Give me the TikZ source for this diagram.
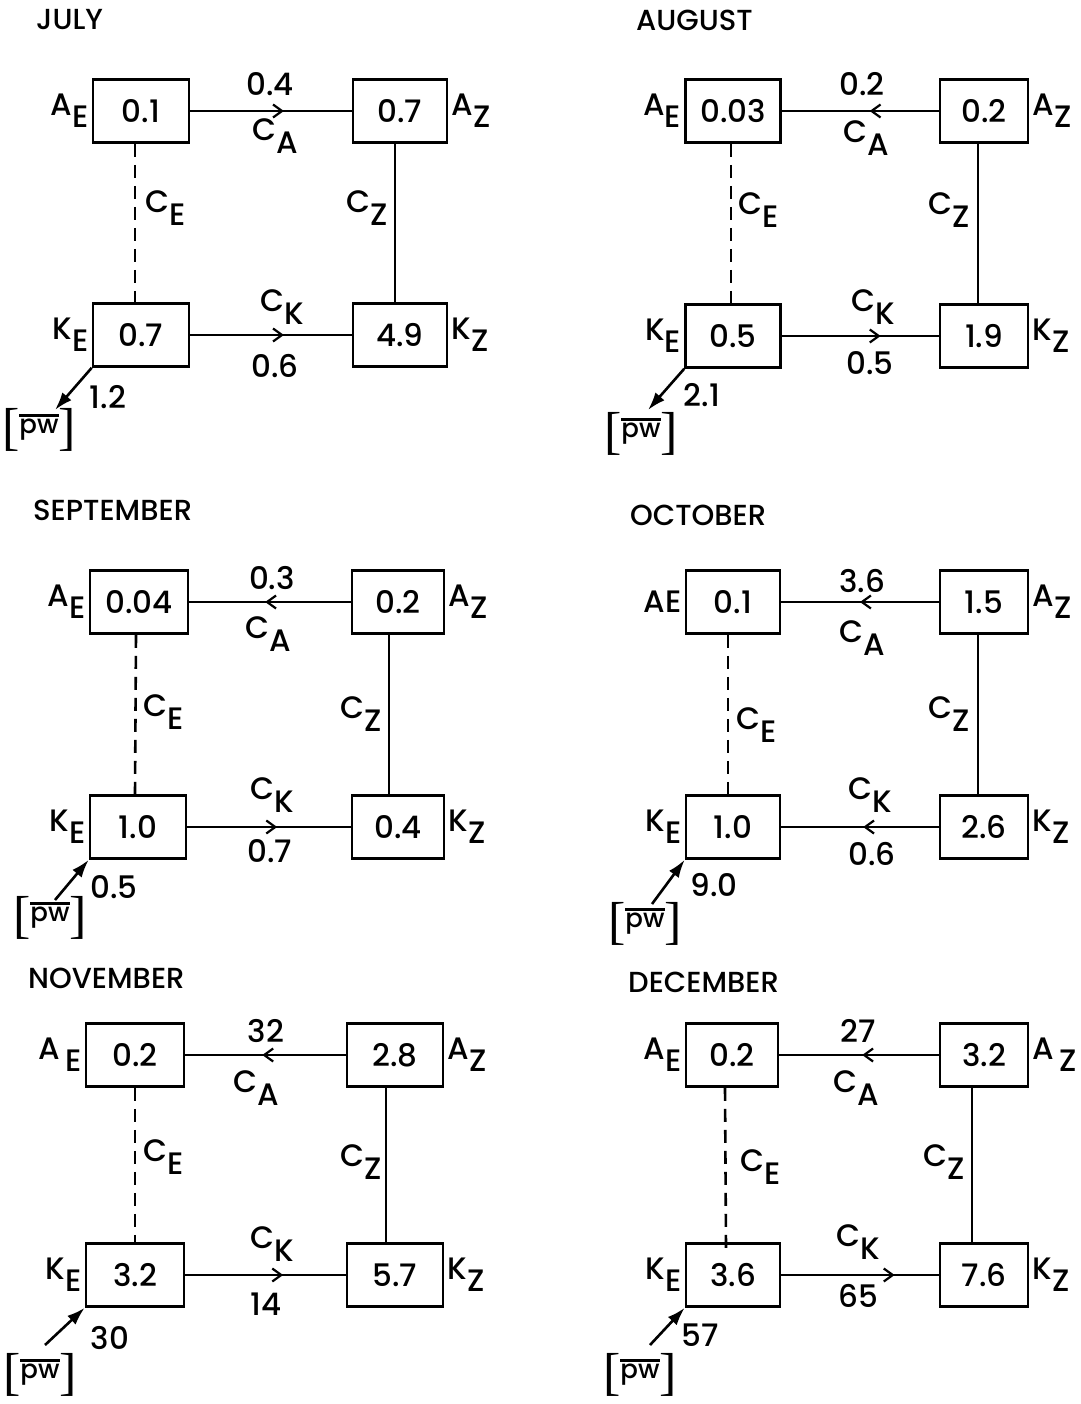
\documentclass[tikz,border=0pt]{standalone}
\usepackage{fontspec}
\setmainfont{Poppins Medium}
\newfontfamily\brk{Liberation Serif}
\usetikzlibrary{arrows.meta,decorations.markings}
\newcommand\lw[1]{\raisebox{-0.40em}{#1}}
\newcommand\ovl[1]{\vbox{\hrule height 2.4pt\kern 2.5pt\hbox{#1}}}
\newcommand\pwbox{{\brk\fontsize{52}{52}\selectfont[}\raisebox{11pt}{\fontsize{26}{26}\selectfont\ovl{pw}}{\brk\fontsize{52}{52}\selectfont]}}
\tikzset{
  box/.style={draw, line width=2.6pt, minimum width=96pt, minimum height=63pt, inner sep=0pt, font=\fontsize{31}{33}\selectfont},
  lbl/.style={inner sep=0pt, font=\fontsize{31}{33}\selectfont},
  ttl/.style={inner sep=0pt, anchor=west, font=\fontsize{29}{31}\selectfont},
  flow/.style={line width=2.2pt},
  ce/.style={line width=2.6pt, dash pattern=on 13pt off 8pt},
  midarrow/.style={flow, postaction=decorate, decoration={markings, mark=at position #1 with {\arrow{Straight Barb[length=9pt,width=13pt,line width=2.2pt]}}}},
  pwarrow/.style={line width=2.6pt, -{Latex[length=18pt,width=12pt]}}
}
\begin{document}
\begin{tikzpicture}[x=1pt,y=-1pt]
\useasboundingbox (0,0) rectangle (1080,1404);
\fill[white] (0,0) rectangle (1080,1404);

% ---------- JULY ----------
\node[ttl] (t1) at (36,20) {JULY};
\node[box] (ae1) at (141,111) {0.1};
\node[box,minimum width=94pt] (az1) at (400,111) {0.7};
\node[box] (ke1) at (141,335) {0.7};
\node[box,minimum width=94pt] (kz1) at (400,335) {4.9};
\node[lbl,anchor=east] (lae1) at ([xshift=-3pt]ae1.west) {A\lw{E}};
\node[lbl,anchor=west] (laz1) at ([xshift=3pt]az1.east) {A\lw{Z}};
\node[lbl,anchor=east] (lke1) at ([xshift=-3pt]ke1.west) {K\lw{E}};
\node[lbl,anchor=west] (lkz1) at ([xshift=3pt]kz1.east) {K\lw{Z}};
\draw[midarrow=0.58] (ae1) -- (az1);
\draw[ce] ([xshift=-6pt]ae1.south) -- ([xshift=-6pt,yshift=-6pt]ke1.north);
\draw[flow] ([xshift=-5pt]az1.south) -- ([xshift=-5pt]kz1.north);
\draw[midarrow=0.58] (ke1) -- (kz1);
\node[lbl] (va1) at (270,84) {0.4};
\node[lbl] (ca1) at (275,136) {C\lw{A}};
\node[lbl,anchor=west] (ce1) at (145,208) {C\lw{E}};
\node[lbl,anchor=east] (cz1) at (388,208) {C\lw{Z}};
\node[lbl] (ck1) at (282,307) {C\lw{K}};
\node[lbl] (vk1) at (275,366) {0.6};
\coordinate (w1) at (55,410);
\draw[pwarrow] (ke1.south west) -- (w1);
\node[lbl] (vp1) at (108,397) {1.2};
\node[lbl] (p1) at (39,430) {\pwbox};

% ---------- AUGUST ----------
\node[ttl] (t2) at (636,20) {AUGUST};
\node[box,minimum width=95pt] (ae2) at (733,111) {0.03};
\node[box,minimum width=88pt] (az2) at (984,111) {0.2};
\node[box,minimum width=95pt] (ke2) at (733,336) {0.5};
\node[box,minimum width=88pt] (kz2) at (984,336) {1.9};
\node[lbl,anchor=east] (lae2) at ([xshift=-3pt]ae2.west) {A\lw{E}};
\node[lbl,anchor=west] (laz2) at ([xshift=3pt]az2.east) {A\lw{Z}};
\node[lbl,anchor=east] (lke2) at ([xshift=-3pt]ke2.west) {K\lw{E}};
\node[lbl,anchor=west] (lkz2) at ([xshift=3pt]kz2.east) {K\lw{Z}};
\draw[midarrow=0.44] (az2) -- (ae2);
\draw[ce] ([xshift=-2pt]ae2.south) -- ([xshift=-2pt,yshift=-6pt]ke2.north);
\draw[flow] ([xshift=-6pt]az2.south) -- ([xshift=-6pt]kz2.north);
\draw[midarrow=0.63] (ke2) -- (kz2);
\node[lbl] (va2) at (862,84) {0.2};
\node[lbl] (ca2) at (866,138) {C\lw{A}};
\node[lbl,anchor=west] (ce2) at (738,210) {C\lw{E}};
\node[lbl,anchor=east] (cz2) at (970,210) {C\lw{Z}};
\node[lbl] (ck2) at (873,307) {C\lw{K}};
\node[lbl] (vk2) at (870,363) {0.5};
\coordinate (w2) at (648,410);
\draw[pwarrow] (ke2.south west) -- (w2);
\node[lbl] (vp2) at (702,395) {2.1};
\node[lbl] (p2) at (641,434) {\pwbox};

% ---------- SEPTEMBER ----------
\node[ttl] (t3) at (33,510) {SEPTEMBER};
\node[box,minimum width=98pt] (ae3) at (139,602) {0.04};
\node[box,minimum width=92pt] (az3) at (398,602) {0.2};
\node[box,minimum width=96pt] (ke3) at (138,827) {1.0};
\node[box,minimum width=92pt] (kz3) at (398,827) {0.4};
\node[lbl,anchor=east] (lae3) at ([xshift=-3pt]ae3.west) {A\lw{E}};
\node[lbl,anchor=west] (laz3) at ([xshift=3pt]az3.east) {A\lw{Z}};
\node[lbl,anchor=east] (lke3) at ([xshift=-3pt]ke3.west) {K\lw{E}};
\node[lbl,anchor=west] (lkz3) at ([xshift=3pt]kz3.east) {K\lw{Z}};
\draw[midarrow=0.53] (az3) -- (ae3);
\draw[ce] ([xshift=-3pt]ae3.south) -- ([xshift=-3pt]ke3.north);
\draw[flow] ([xshift=-9pt]az3.south) -- ([xshift=-9pt]kz3.north);
\draw[midarrow=0.55] (ke3) -- (kz3);
\node[lbl] (va3) at (272,578) {0.3};
\node[lbl] (ca3) at (268,634) {C\lw{A}};
\node[lbl,anchor=west] (ce3) at (143,712) {C\lw{E}};
\node[lbl,anchor=east] (cz3) at (382,714) {C\lw{Z}};
\node[lbl] (ck3) at (272,795) {C\lw{K}};
\node[lbl] (vk3) at (270,851) {0.7};
\coordinate (w3) at (55,900);
\draw[pwarrow] (w3) -- (ke3.south west);
\node[lbl] (vp3) at (114,887) {0.5};
\node[lbl] (p3) at (50,918) {\pwbox};

% ---------- OCTOBER ----------
\node[ttl] (t4) at (630,515) {OCTOBER};
\node[box,minimum width=94pt] (ae4) at (733,602) {0.1};
\node[box,minimum width=88pt] (az4) at (984,602) {1.5};
\node[box,minimum width=94pt] (ke4) at (733,827) {1.0};
\node[box,minimum width=88pt] (kz4) at (984,827) {2.6};
\node[lbl,anchor=east] (lae4) at ([xshift=-3pt]ae4.west) {AE};
\node[lbl,anchor=west] (laz4) at ([xshift=3pt]az4.east) {A\lw{Z}};
\node[lbl,anchor=east] (lke4) at ([xshift=-3pt]ke4.west) {K\lw{E}};
\node[lbl,anchor=west] (lkz4) at ([xshift=3pt]kz4.east) {K\lw{Z}};
\draw[midarrow=0.5] (az4) -- (ae4);
\draw[ce] ([xshift=-5pt]ae4.south) -- ([xshift=-5pt,yshift=-6pt]ke4.north);
\draw[flow] ([xshift=-6pt]az4.south) -- ([xshift=-6pt]kz4.north);
\draw[midarrow=0.48] (kz4) -- (ke4);
\node[lbl] (va4) at (862,581) {3.6};
\node[lbl] (ca4) at (862,638) {C\lw{A}};
\node[lbl,anchor=west] (ce4) at (736,725) {C\lw{E}};
\node[lbl,anchor=east] (cz4) at (970,714) {C\lw{Z}};
\node[lbl] (ck4) at (870,795) {C\lw{K}};
\node[lbl] (vk4) at (872,854) {0.6};
\coordinate (w4) at (652,904);
\draw[pwarrow] (w4) -- (ke4.south west);
\node[lbl] (vp4) at (714,885) {9.0};
\node[lbl] (p4) at (645,924) {\pwbox};

% ---------- NOVEMBER ----------
\node[ttl] (t5) at (28,978) {NOVEMBER};
\node[box,minimum width=98pt] (ae5) at (135,1055) {0.2};
\node[box,minimum width=96pt] (az5) at (395,1055) {2.8};
\node[box,minimum width=98pt] (ke5) at (135,1275) {3.2};
\node[box,minimum width=96pt] (kz5) at (395,1275) {5.7};
\node[lbl,anchor=east] (lae5) at ([xshift=-3pt]ae5.west) {A\,\lw{E}};
\node[lbl,anchor=west] (laz5) at ([xshift=3pt]az5.east) {A\lw{Z}};
\node[lbl,anchor=east] (lke5) at ([xshift=-3pt]ke5.west) {K\lw{E}};
\node[lbl,anchor=west] (lkz5) at ([xshift=3pt]kz5.east) {K\lw{Z}};
\draw[midarrow=0.52] (az5) -- (ae5);
\draw[ce] (ae5.south) -- (ke5.north);
\draw[flow] ([xshift=-9pt]az5.south) -- ([xshift=-9pt]kz5.north);
\draw[midarrow=0.61] (ke5) -- (kz5);
\node[lbl] (va5) at (266,1031) {32};
\node[lbl] (ca5) at (256,1088) {C\lw{A}};
\node[lbl,anchor=west] (ce5) at (143,1157) {C\lw{E}};
\node[lbl,anchor=east] (cz5) at (382,1162) {C\lw{Z}};
\node[lbl] (ck5) at (272,1244) {C\lw{K}};
\node[lbl] (vk5) at (266,1304) {14};
\coordinate (w5) at (45,1345);
\draw[pwarrow] (w5) -- (ke5.south west);
\node[lbl] (vp5) at (110,1338) {30};
\node[lbl] (p5) at (40,1375) {\pwbox};

% ---------- DECEMBER ----------
\node[ttl] (t6) at (628,982) {DECEMBER};
\node[box,minimum width=92pt] (ae6) at (732,1055) {0.2};
\node[box,minimum width=88pt] (az6) at (984,1055) {3.2};
\node[box,minimum width=94pt] (ke6) at (733,1275) {3.6};
\node[box,minimum width=88pt] (kz6) at (984,1275) {7.6};
\node[lbl,anchor=east] (lae6) at ([xshift=-3pt]ae6.west) {A\lw{E}};
\node[lbl,anchor=west] (laz6) at ([xshift=3pt]az6.east) {A\,\lw{Z}};
\node[lbl,anchor=east] (lke6) at ([xshift=-3pt]ke6.west) {K\lw{E}};
\node[lbl,anchor=west] (lkz6) at ([xshift=3pt]kz6.east) {K\lw{Z}};
\draw[midarrow=0.48] (az6) -- (ae6);
\draw[ce] ([xshift=-7pt]ae6.south) -- ([xshift=-7pt,yshift=-6pt]ke6.north);
\draw[flow] ([xshift=-12pt]az6.south) -- ([xshift=-12pt]kz6.north);
\draw[midarrow=0.72] (ke6) -- (kz6);
\node[lbl] (va6) at (858,1031) {27};
\node[lbl] (ca6) at (856,1088) {C\lw{A}};
\node[lbl,anchor=west] (ce6) at (740,1167) {C\lw{E}};
\node[lbl,anchor=east] (cz6) at (965,1162) {C\lw{Z}};
\node[lbl] (ck6) at (858,1242) {C\lw{K}};
\node[lbl] (vk6) at (858,1296) {65};
\coordinate (w6) at (650,1345);
\draw[pwarrow] (w6) -- (ke6.south west);
\node[lbl] (vp6) at (700,1335) {57};
\node[lbl] (p6) at (640,1375) {\pwbox};
\end{tikzpicture}
\end{document}
